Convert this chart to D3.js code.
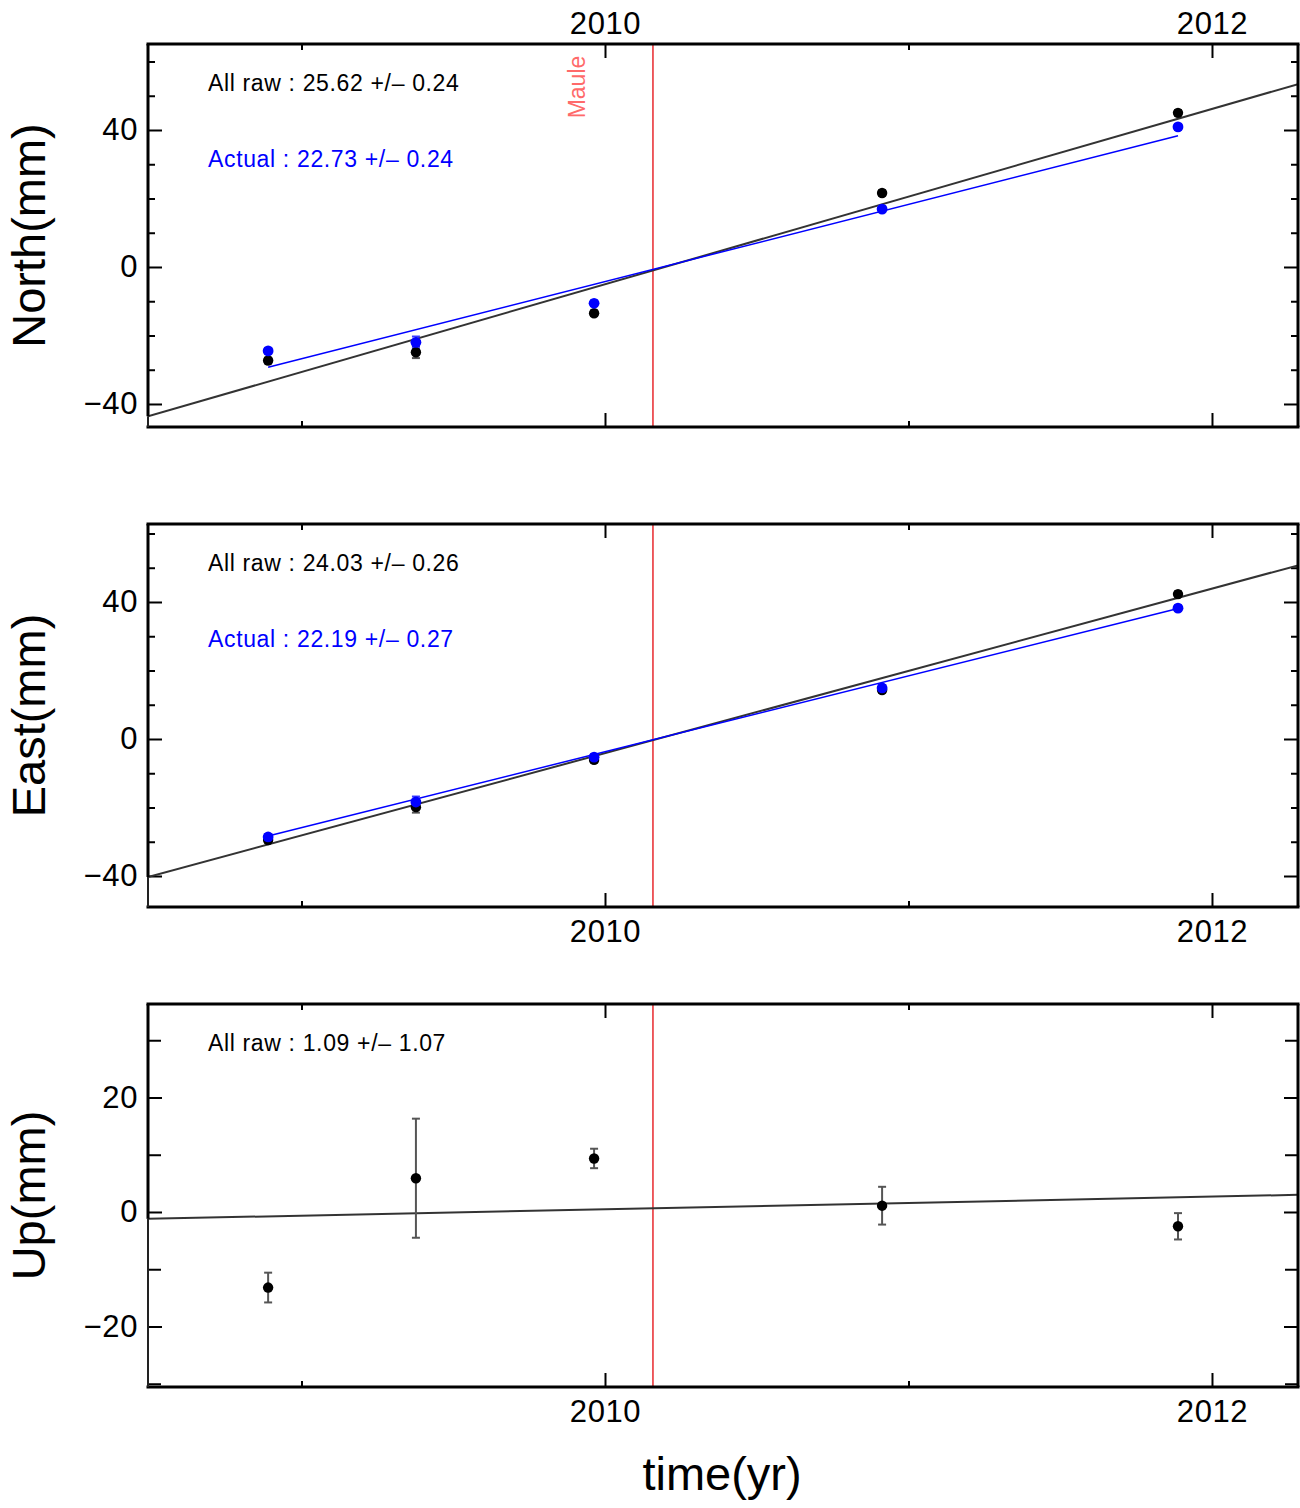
<!DOCTYPE html>
<html>
<head>
<meta charset="utf-8">
<script src="https://cdn.jsdelivr.net/npm/d3@7"></script>
<style>
  html, body { margin: 0; padding: 0; background: #fff; }
  svg { display: block; font-family: "Liberation Sans", Arial, Helvetica, sans-serif; }
</style>
</head>
<body>
<svg id="chart" width="1300" height="1508"></svg>
<script>
// ---------------- data ----------------
const years = [2008.890, 2009.377, 2009.964, 2010.913, 2011.888];

const northRaw = [-27.3, -24.9, -13.5, 21.6, 45.0];
const northRawErr = [0.8, 1.7, 0.8, 0.8, 0.8];
const northActual = [-24.5, -22.0, -10.6, 16.9, 40.9];
const northActualErr = [0.8, 1.7, 0.8, 0.8, 0.8];

const eastRaw = [-29.5, -19.9, -6.1, 14.3, 42.3];
const eastRawErr = [0.8, 1.6, 0.8, 0.8, 0.8];
const eastActual = [-28.6, -18.4, -5.3, 14.9, 38.2];
const eastActualErr = [0.8, 1.6, 0.8, 0.8, 0.8];

const upRaw = [-13.2, 5.9, 9.35, 1.1, -2.5];
const upRawErr = [2.6, 10.4, 1.7, 3.3, 2.3];

// fitted trend lines (end points)
const rawFitYears = [2008.4942, 2012.2834];
const actualFitYears = [2008.890, 2011.888];
const northRawFit = [-43.6, 53.4];
const northActualFit = [-29.3, 38.3];
const eastRawFit = [-40.3, 50.7];
const eastActualFit = [-28.3, 38.1];
const upRawFit = [-1.2, 3.0];

const mauleYear = 2010.158;
const mauleLabel = "Maule";

const xMajorTicks = [2010, 2012];
const xMinorTicks = [2009, 2011];
const xDomain = [2008.4942, 2012.2834];

const panels = [
  { title: "North(mm)", domain: [-46.72, 65.11], major: [-40, 0, 40], minor: [-30, -20, -10, 10, 20, 30, 60, 50],
    raw: northRaw, rawErr: northRawErr, actual: northActual, actualErr: northActualErr,
    rawFit: northRawFit, actualFit: northActualFit,
    rawText: "All raw : 25.62 +/\u2013 0.24", actualText: "Actual : 22.73 +/\u2013 0.24",
    topLabels: true, bottomLabels: false, maule: true, minorLen: 7 },
  { title: "East(mm)", domain: [-49.05, 62.77], major: [-40, 0, 40], minor: [-30, -20, -10, 10, 20, 30, 50, 60],
    raw: eastRaw, rawErr: eastRawErr, actual: eastActual, actualErr: eastActualErr,
    rawFit: eastRawFit, actualFit: eastActualFit,
    rawText: "All raw : 24.03 +/\u2013 0.26", actualText: "Actual : 22.19 +/\u2013 0.27",
    topLabels: false, bottomLabels: true, maule: false, minorLen: 7 },
  { title: "Up(mm)", domain: [-30.57, 36.33], major: [-20, 0, 20], minor: [-30, -10, 10, 30],
    raw: upRaw, rawErr: upRawErr, actual: null, actualErr: null,
    rawFit: upRawFit, actualFit: null,
    rawText: "All raw : 1.09 +/\u2013 1.07", actualText: null,
    topLabels: false, bottomLabels: true, maule: false, minorLen: 13 }
];

// ---------------- layout ----------------
const left = 148, right = 1298;
const panelTops = [44, 524, 1004];
const panelH = 383;

const svg = d3.select("#chart");
const x = d3.scaleLinear().domain(xDomain).range([left, right]);

const FONT = '"Liberation Sans", Arial, Helvetica, sans-serif';

panels.forEach((p, i) => {
  const top = panelTops[i], bottom = top + panelH;
  const y = d3.scaleLinear().domain(p.domain).range([bottom, top]);
  const g = svg.append("g");

  const clipId = "clip" + i;
  svg.append("clipPath").attr("id", clipId).append("rect")
    .attr("x", left).attr("y", top).attr("width", right - left).attr("height", panelH);

  function styleAxis(sel) {
    sel.select(".domain").remove();
    sel.selectAll(".tick line").attr("stroke", "#000").attr("stroke-width", 2);
    sel.selectAll(".tick text").attr("font-size", 31).attr("font-family", FONT)
      .attr("fill", "#000").attr("letter-spacing", "0.6px");
  }
  const fmt = d => (d < 0 ? "\u2212" + Math.abs(d) : String(d));

  // left
  g.append("g").attr("transform", `translate(${left},0)`)
    .call(d3.axisLeft(y).tickValues(p.major).tickSize(-14).tickPadding(10).tickFormat(fmt))
    .call(styleAxis);
  g.append("g").attr("transform", `translate(${left},0)`)
    .call(d3.axisLeft(y).tickValues(p.minor).tickSize(-p.minorLen).tickFormat(""))
    .call(styleAxis);
  // right
  g.append("g").attr("transform", `translate(${right},0)`)
    .call(d3.axisRight(y).tickValues(p.major).tickSize(-14).tickFormat(""))
    .call(styleAxis);
  g.append("g").attr("transform", `translate(${right},0)`)
    .call(d3.axisRight(y).tickValues(p.minor).tickSize(-p.minorLen).tickFormat(""))
    .call(styleAxis);
  // top
  g.append("g").attr("transform", `translate(0,${top})`)
    .call(d3.axisTop(x).tickValues(xMajorTicks).tickSize(-14).tickPadding(10)
      .tickFormat(p.topLabels ? d3.format("d") : ""))
    .call(styleAxis);
  g.append("g").attr("transform", `translate(0,${top})`)
    .call(d3.axisTop(x).tickValues(xMinorTicks).tickSize(-6).tickFormat(""))
    .call(styleAxis);
  // bottom
  g.append("g").attr("transform", `translate(0,${bottom})`)
    .call(d3.axisBottom(x).tickValues(xMajorTicks).tickSize(-14).tickPadding(13)
      .tickFormat(p.bottomLabels ? d3.format("d") : ""))
    .call(styleAxis);
  g.append("g").attr("transform", `translate(0,${bottom})`)
    .call(d3.axisBottom(x).tickValues(xMinorTicks).tickSize(-6).tickFormat(""))
    .call(styleAxis);

  // Maule line
  g.append("line")
    .attr("x1", x(mauleYear)).attr("x2", x(mauleYear))
    .attr("y1", top).attr("y2", bottom)
    .attr("stroke", "#e8282d").attr("stroke-width", 1.5);
  if (p.maule) {
    g.append("text")
      .attr("transform", `translate(${x(mauleYear) - 68},${top + 43}) rotate(-90)`)
      .attr("text-anchor", "middle")
      .attr("font-size", 23).attr("font-family", FONT)
      .attr("fill", "#ff6a6a")
      .text(mauleLabel);
  }

  const plot = g.append("g").attr("clip-path", `url(#${clipId})`);
  const line = d3.line().x(d => x(d[0])).y(d => y(d[1]));

  // fit lines
  plot.append("path")
    .datum(d3.zip(rawFitYears, p.rawFit))
    .attr("d", line).attr("fill", "none")
    .attr("stroke", "#333").attr("stroke-width", 2);
  if (p.actualFit) {
    plot.append("path")
      .datum(d3.zip(actualFitYears, p.actualFit))
      .attr("d", line).attr("fill", "none")
      .attr("stroke", "#0000ff").attr("stroke-width", 1.5);
  }

  // error bars
  function errBars(vals, errs, color) {
    const data = d3.zip(years, vals, errs);
    const eg = plot.append("g").attr("stroke", color).attr("stroke-width", 2);
    eg.selectAll("line.v").data(data).join("line")
      .attr("x1", d => x(d[0])).attr("x2", d => x(d[0]))
      .attr("y1", d => y(d[1] - d[2])).attr("y2", d => y(d[1] + d[2]));
    eg.selectAll("line.t").data(data).join("line")
      .attr("x1", d => x(d[0]) - 4).attr("x2", d => x(d[0]) + 4)
      .attr("y1", d => y(d[1] + d[2])).attr("y2", d => y(d[1] + d[2]));
    eg.selectAll("line.b").data(data).join("line")
      .attr("x1", d => x(d[0]) - 4).attr("x2", d => x(d[0]) + 4)
      .attr("y1", d => y(d[1] - d[2])).attr("y2", d => y(d[1] - d[2]));
  }
  errBars(p.raw, p.rawErr, "#555");
  if (p.actual) errBars(p.actual, p.actualErr, "#3a3aff");

  plot.append("g").selectAll("circle").data(d3.zip(years, p.raw)).join("circle")
    .attr("cx", d => x(d[0])).attr("cy", d => y(d[1])).attr("r", 5.2).attr("fill", "#000");
  if (p.actual) {
    plot.append("g").selectAll("circle").data(d3.zip(years, p.actual)).join("circle")
      .attr("cx", d => x(d[0])).attr("cy", d => y(d[1])).attr("r", 5.4).attr("fill", "#0000ff");
  }

  // frame
  const fitLeftY = y(p.rawFit[0]);
  const fr = g.append("g").attr("stroke", "#000").attr("stroke-width", 3).attr("fill", "none");
  fr.append("line").attr("x1", left - 1.5).attr("x2", right + 1.5).attr("y1", top).attr("y2", top);
  fr.append("line").attr("x1", left - 1.5).attr("x2", right + 1.5).attr("y1", bottom).attr("y2", bottom);
  fr.append("line").attr("x1", right).attr("x2", right).attr("y1", top).attr("y2", bottom);
  fr.append("line").attr("x1", left).attr("x2", left).attr("y1", top).attr("y2", fitLeftY);
  g.append("line").attr("x1", left).attr("x2", left).attr("y1", fitLeftY).attr("y2", bottom)
    .attr("stroke", "#222").attr("stroke-width", 2);

  // annotations
  g.append("text").attr("x", 208).attr("y", top + 47)
    .attr("font-size", 23).attr("font-family", FONT).attr("fill", "#000")
    .attr("letter-spacing", "0.65px")
    .text(p.rawText);
  if (p.actualText) {
    g.append("text").attr("x", 208).attr("y", top + 123)
      .attr("font-size", 23).attr("font-family", FONT).attr("fill", "#0000ff")
      .attr("letter-spacing", "0.65px")
      .text(p.actualText);
  }

  // y-axis title
  g.append("text")
    .attr("transform", `translate(45,${(top + bottom) / 2}) rotate(-90)`)
    .attr("text-anchor", "middle")
    .attr("font-size", 47).attr("font-family", FONT).attr("fill", "#000")
    .text(p.title);
});

svg.append("text")
  .attr("x", 722).attr("y", 1490)
  .attr("text-anchor", "middle")
  .attr("font-size", 47).attr("font-family", FONT).attr("fill", "#000")
  .text("time(yr)");
</script>
</body>
</html>
